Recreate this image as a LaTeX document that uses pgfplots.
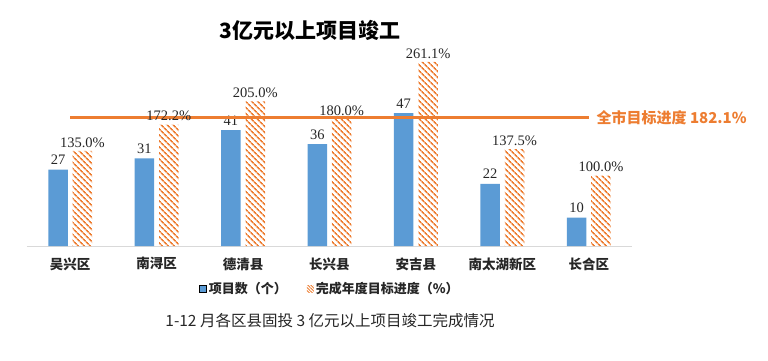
\documentclass[border=0pt]{standalone}
\usepackage{pgfplots}
\pgfplotsset{compat=1.18}
\usetikzlibrary{patterns.meta}
\usepackage{fontspec}
\setmainfont{Noto Sans CJK SC}
\newfontfamily\tnr{Liberation Serif}
\definecolor{cblue}{HTML}{5B9BD5}
\definecolor{corange}{HTML}{ED7D31}
\definecolor{ctxt}{HTML}{262626}
\begin{document}
\begin{tikzpicture}[x=1pt,y=1pt]
\path[use as bounding box] (0,0) rectangle (768,360);
\node[font=\bfseries\fontsize{21}{21}\selectfont] at (310,330) {3亿元以上项目竣工};
\node[font=\fontsize{15.5}{15.5}\selectfont, text=ctxt] at (330,39) {1-12 月各区县固投 3 亿元以上项目竣工完成情况};
\begin{axis}[at={(27pt,114pt)}, anchor=south west, width=605pt, height=196pt, scale only axis,
  ybar, bar width=19.5pt,
  xmin=-0.5, xmax=6.5, ymin=0, ymax=69.3, hide y axis,
  axis x line*=bottom, x axis line style={-, draw=black!15, line width=1pt},
  xtick={0,...,6}, xticklabels={吴兴区,南浔区,德清县,长兴县,安吉县,南太湖新区,长合区},
  major tick length=0,
  x tick label style={font=\bfseries\fontsize{13.5}{13.5}\selectfont, text=ctxt, yshift=-8pt},
  /pgf/number format/assume math mode=true, clip=false]
\addplot[bar shift=-12.2pt, fill=cblue, draw=none,
  nodes near coords,
  every node near coord/.append style={font=\tnr\fontsize{14.5}{14.5}\selectfont, text=ctxt, yshift=1.5pt}]
  coordinates {(0,27)(1,31)(2,41)(3,36)(4,47)(5,22)(6,10)};
\end{axis}
\begin{axis}[at={(27pt,114pt)}, anchor=south west, width=605pt, height=196pt, scale only axis,
  ybar, bar width=19.5pt,
  xmin=-0.5, xmax=6.5, ymin=0, ymax=278, hide axis, clip=false,
  /pgf/number format/assume math mode=true,
  legend columns=2,
  legend style={at={(0.501,-0.219)}, anchor=center, draw=none, fill=none,
    font=\bfseries\fontsize{13}{13}\selectfont, text=ctxt,
    /tikz/every even column/.append style={column sep=18pt}},
  legend cell align=left]
\addlegendimage{legend image code/.code={\path[fill=cblue] (0pt,-3.5pt) rectangle (7pt,3.5pt);}}
\addlegendentry{项目数（个）}
\addplot[bar shift=12.2pt, draw=none,
  pattern={Lines[angle=-45,distance=4pt,line width=1.7pt]}, pattern color=corange,
  legend image code/.code={\path[pattern={Lines[angle=-45,distance=2.2pt,line width=0.9pt]}, pattern color=corange] (0pt,-3.5pt) rectangle (7pt,3.5pt);},
  nodes near coords={\pgfmathprintnumber[fixed,fixed zerofill,precision=1]{\pgfplotspointmeta}\%},
  every node near coord/.append style={font=\tnr\fontsize{14.5}{14.5}\selectfont, text=ctxt}]
  coordinates {(0,135.0)(1,172.2)(2,205.0)(3,180.0)(4,261.1)(5,137.5)(6,100.0)};
\addlegendentry{完成年度目标进度（\%）}
\addplot[sharp plot, corange, line width=3pt, forget plot] coordinates {(0,182.1)(6,182.1)};
\node[anchor=west, text=corange, font=\bfseries\fontsize{15}{15}\selectfont] at (axis cs:6.05,182.1) {全市目标进度 182.1\%};
\end{axis}
\end{tikzpicture}
\end{document}
